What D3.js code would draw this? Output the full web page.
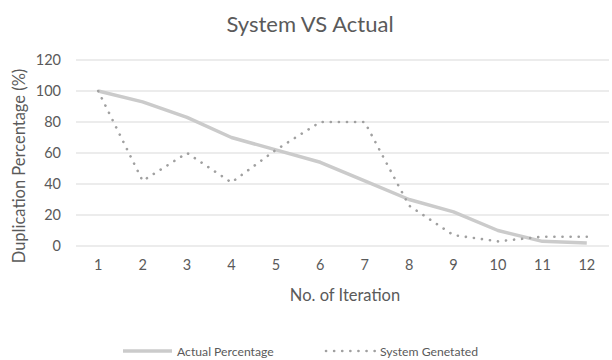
<!DOCTYPE html>
<html>
<head>
<meta charset="utf-8">
<script src="https://cdn.jsdelivr.net/npm/d3@7/dist/d3.min.js"></script>
<style>
  html, body { margin: 0; padding: 0; background: #fff; }
  svg { display: block; font-family: Lato, "Open Sans", sans-serif; }
</style>
</head>
<body>
<div id="chart"></div>
<script>
// Iterations and duplication percentages for both series
const iterations = [1, 2, 3, 4, 5, 6, 7, 8, 9, 10, 11, 12];
const actualPercentage = [100, 93, 83, 70, 62, 54, 42, 30, 22, 10, 3, 2];
const systemGenerated = [100, 42, 60, 41, 62, 80, 80, 26, 7, 3, 6, 6];
const yTicks = [0, 20, 40, 60, 80, 100, 120];
const seriesNames = ["Actual Percentage", "System Genetated"];

const W = 612, H = 360;
const margin = { top: 60, right: 3, bottom: 114, left: 76 };
const innerW = W - margin.left - margin.right;
const innerH = H - margin.top - margin.bottom;

const svg = d3.select("#chart").append("svg")
  .attr("width", W).attr("height", H);

const textColor = "#5a5a5a";

// Title
svg.append("text")
  .attr("x", 310).attr("y", 32)
  .attr("text-anchor", "middle")
  .attr("font-size", 22)
  .attr("fill", textColor)
  .text("System VS Actual");

const g = svg.append("g").attr("transform", `translate(${margin.left},${margin.top})`);

const x = d3.scaleBand().domain(iterations).range([0, innerW]);
const y = d3.scaleLinear().domain([0, 120]).range([innerH, 0]);
const cx = d => x(d) + x.bandwidth() / 2;

// Horizontal gridlines
g.append("g")
  .selectAll("line")
  .data(yTicks)
  .join("line")
  .attr("x1", 0).attr("x2", innerW)
  .attr("y1", d => y(d)).attr("y2", d => y(d))
  .attr("stroke", "#d9d9d9")
  .attr("stroke-width", 1.2);

// Y axis labels
const yAxis = g.append("g")
  .call(d3.axisLeft(y).tickValues(yTicks).tickSize(0).tickPadding(15));
yAxis.select(".domain").remove();
yAxis.selectAll("text").attr("font-size", 14.5).attr("fill", textColor)
  .attr("font-family", "Lato, sans-serif");

// X axis labels
const xAxis = g.append("g")
  .attr("transform", `translate(0,${innerH})`)
  .call(d3.axisBottom(x).tickSize(0).tickPadding(14));
xAxis.select(".domain").remove();
xAxis.selectAll("text").attr("font-size", 14.5).attr("fill", textColor)
  .attr("font-family", "Lato, sans-serif");

// Axis titles
svg.append("text")
  .attr("transform", "translate(25,166) rotate(-90)")
  .attr("text-anchor", "middle")
  .attr("font-size", 16.5)
  .attr("fill", textColor)
  .text("Duplication Percentage (%)");

svg.append("text")
  .attr("x", 345).attr("y", 301)
  .attr("text-anchor", "middle")
  .attr("font-size", 16.5)
  .attr("fill", textColor)
  .text("No. of Iteration");

// Series lines
const line = d3.line().x((d, i) => cx(iterations[i])).y(d => y(d));

g.append("path")
  .datum(actualPercentage)
  .attr("fill", "none")
  .attr("stroke", "#cbcbcb")
  .attr("stroke-width", 3.5)
  .attr("stroke-linejoin", "round")
  .attr("d", line);

g.append("path")
  .datum(systemGenerated)
  .attr("fill", "none")
  .attr("stroke", "#a0a0a0")
  .attr("stroke-width", 2.6)
  .attr("stroke-linecap", "round")
  .attr("stroke-dasharray", "0.1,8")
  .attr("d", line);

// Legend
const legend = svg.append("g");
const leg = [
  { name: seriesNames[0], x0: 123, color: "#cbcbcb", w: 3.5, dash: null, cap: "butt" },
  { name: seriesNames[1], x0: 326, color: "#a0a0a0", w: 2.6, dash: "0.1,8", cap: "round" }
];
leg.forEach(l => {
  legend.append("line")
    .attr("x1", l.x0).attr("x2", l.x0 + 49)
    .attr("y1", 351).attr("y2", 351)
    .attr("stroke", l.color)
    .attr("stroke-width", l.w)
    .attr("stroke-linecap", l.cap)
    .attr("stroke-dasharray", l.dash);
  legend.append("text")
    .attr("x", l.x0 + 54).attr("y", 356)
    .attr("font-size", 12.2)
    .attr("fill", textColor)
    .text(l.name);
});
</script>
</body>
</html>
